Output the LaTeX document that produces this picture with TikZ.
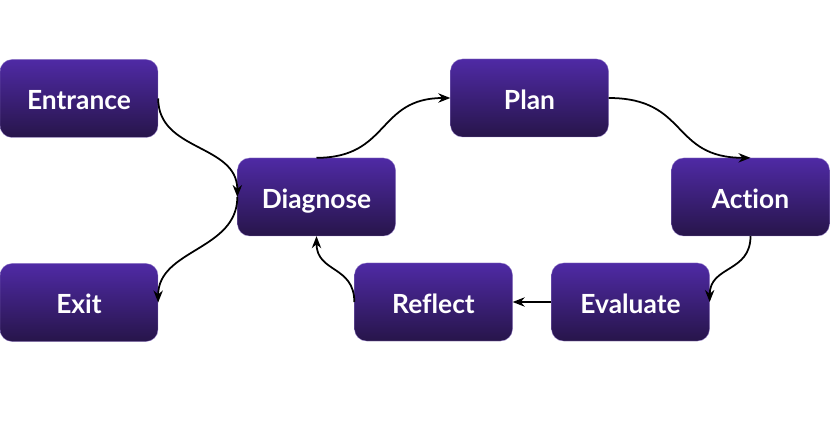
\documentclass[tikz,border=0pt]{standalone}
\usepackage{fontspec}
\setmainfont{Lato}[Ligatures={NoCommon, NoRare, NoDiscretionary}]
\usetikzlibrary{arrows.meta}
\definecolor{stagetop}{HTML}{4F2AA5}
\definecolor{stagebot}{HTML}{27154A}
\tikzset{
    stage/.style={rectangle, rounded corners=0.36cm, top color=stagetop, bottom color=stagebot, draw=stagetop!60!white, line width=0.3pt, minimum width=4.74cm, minimum height=2.34cm, text height=19.6pt, text depth=0pt, text=white, font=\fontsize{22.5}{26}\selectfont\bfseries},
    link/.style={-{Stealth[length=0.36cm, width=0.28cm]}, line width=1.5pt, black}
}
\begin{document}
\begin{tikzpicture}
        \useasboundingbox (0, 0) rectangle (24.9, -13.08);

        \node[stage] (entrance) at (2.37, -2.955) {Entrance};
        \node[stage] (diagnose) at (9.495, -5.91) {Diagnose};
        \node[stage] (plan) at (15.885, -2.94) {Plan};
        \node[stage] (action) at (22.515, -5.91) {Action};
        \node[stage] (exit) at (2.37, -9.075) {Exit};
        \node[stage] (reflect) at (13.005, -9.06) {Reflect};
        \node[stage] (evaluate) at (18.915, -9.06) {Evaluate};

        \draw[link] (entrance.east) .. controls +(0, -1.6) and +(0, 1.6) .. (diagnose.west);
        \draw[link] (diagnose.west) .. controls +(0, -1.6) and +(0, 1.6) .. (exit.east);
        \draw[link] (diagnose.north) .. controls +(2.2, 0) and +(-2.2, 0) .. (plan.west);
        \draw[link] (plan.east) .. controls +(2.4, 0) and +(-2.4, 0) .. (action.north);
        \draw[link] (action.south) .. controls +(0, -1.1) and +(0, 1.1) .. (evaluate.east);
        \draw[link] (evaluate.west) -- (reflect.east);
        \draw[link] (reflect.west) .. controls +(0, 1.1) and +(0, -1.1) .. (diagnose.south);
    \end{tikzpicture}
\end{document}
